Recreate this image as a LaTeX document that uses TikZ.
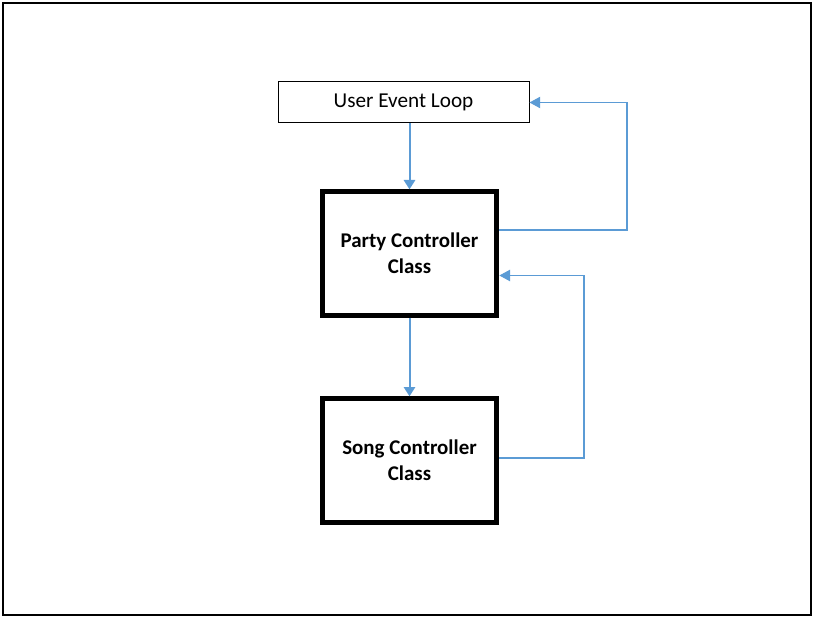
\documentclass[tikz,border=0pt]{standalone}
\usepackage{fontspec}
\setmainfont{Carlito}
\usetikzlibrary{arrows.meta}
\definecolor{lineblue}{HTML}{5B9BD5}
\begin{document}
\begin{tikzpicture}[x=0.75pt,y=-0.75pt,
  thinbox/.style={draw=black,line width=0.75pt,minimum width=188.25pt,minimum height=30.75pt,inner sep=0pt,font=\fontsize{15.9pt}{19.5pt}\selectfont},
  thickbox/.style={draw=black,line width=3.75pt,minimum width=131pt,minimum height=92.5pt,inner sep=0pt,align=center,font=\bfseries\fontsize{15.7pt}{19.5pt}\selectfont},
  downarr/.style={draw=lineblue,line width=1.5pt,-{Triangle[length=7pt,width=8.5pt]}},
  fbarr/.style={draw=lineblue,line width=0.9pt,-{Triangle[length=8pt,width=8.5pt]}}]
\useasboundingbox (0,0) rectangle (816,620);
\node[draw=black,line width=1.1pt,minimum width=606pt,minimum height=459pt,inner sep=0pt] (frame) at (407,309) {};
\node[thinbox] (uel) at (403.5,102.5) {User Event Loop};
\node[thickbox] (party) at (409.5,253.5) {Party Controller\\Class};
\node[thickbox] (song) at (409.5,460.5) {Song Controller\\Class};
\coordinate (r1) at (627,0);
\coordinate (r2) at (584,0);
\coordinate (p1) at ([yshift=17.6pt]party.east);
\coordinate (p2) at ([yshift=-16.5pt]party.east);
\coordinate (s1) at ([yshift=1.9pt]song.east);
\draw[downarr] (uel.south -| party.north) -- (party.north);
\draw[downarr] (party.south) -- (party.south |- song.north);
\draw[fbarr] (p1) -| (r1 |- uel.east) -- (uel.east);
\draw[fbarr] (s1) -| (r2 |- p2) -- (p2);
\end{tikzpicture}
\end{document}
